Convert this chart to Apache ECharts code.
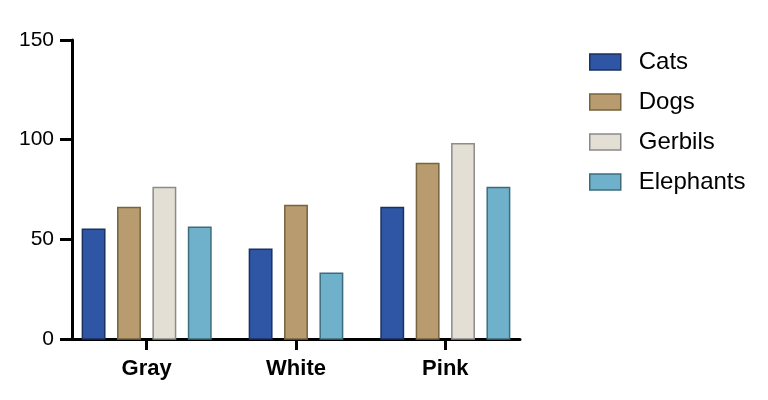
<!DOCTYPE html>
<html>
<head>
<meta charset="utf-8">
<script src="https://cdn.jsdelivr.net/npm/echarts@6/dist/echarts.min.js"></script>
<style>html,body{margin:0;padding:0;background:#fff;}#c{width:768px;height:400px;}</style>
</head>
<body>
<div id="c"></div>
<script>
var categories = ['Gray', 'White', 'Pink'];
var seriesNames = ['Cats', 'Dogs', 'Gerbils', 'Elephants'];
var cats = [55, 45, 66];
var dogs = [66, 67, 88];
var gerbils = [76, null, 98];
var elephants = [56, 33, 76];
var yTicks = [0, 50, 100, 150];

var allValues = [cats, dogs, gerbils, elephants];
var fills = ['#2E56A4', '#B89C6F', '#E3DFD5', '#6FB0CB'];
var strokes = ['#1B315F', '#76633F', '#8C8B88', '#3E6C7D'];
var FONT = '"Liberation Sans", Arial, Helvetica, sans-serif';

function makeRender(sIdx) {
  return function (params, api) {
    var cat = api.value(0);
    var val = api.value(1);
    var present = [];
    for (var s = 0; s < allValues.length; s++) {
      if (allValues[s][cat] != null) present.push(s);
    }
    var k = present.indexOf(sIdx);
    var n = present.length;
    var base = api.coord([cat, 0]);
    var top = api.coord([cat, val]);
    var band = api.size([1, 0])[0];
    var pitch = band * 0.237;
    var w = band * 0.150;
    var cx = base[0] + (k - (n - 1) / 2) * pitch;
    return {
      type: 'rect',
      shape: { x: cx - w / 2, y: top[1], width: w, height: base[1] - top[1] },
      style: { fill: fills[sIdx], stroke: strokes[sIdx], lineWidth: 1.5 }
    };
  };
}

var series = allValues.map(function (arr, sIdx) {
  return {
    name: seriesNames[sIdx],
    type: 'custom',
    renderItem: makeRender(sIdx),
    itemStyle: { color: fills[sIdx], borderColor: strokes[sIdx], borderWidth: 1.5 },
    encode: { x: 0, y: 1 },
    data: arr.map(function (v, i) { return v == null ? null : [i, v]; }).filter(function (d) { return d; })
  };
});

var chart = echarts.init(document.getElementById('c'), null, { renderer: 'canvas' });
chart.setOption({
  animation: false,
  backgroundColor: '#fff',
  grid: { left: 72, right: 248, top: 40, bottom: 61, containLabel: false },
  legend: {
    orient: 'vertical',
    left: 584,
    top: 45,
    icon: 'rect',
    itemWidth: 31,
    itemHeight: 16,
    itemGap: 16,
    textStyle: { fontFamily: FONT, fontSize: 24, color: '#000', lineHeight: 24, padding: [0, 0, 0, 13] },
    data: seriesNames.map(function (nm, i) {
      return { name: nm, itemStyle: { color: fills[i], borderColor: strokes[i], borderWidth: 1.5 } };
    })
  },
  xAxis: {
    type: 'category',
    data: categories,
    axisLine: { show: true, lineStyle: { color: '#000', width: 3 } },
    axisTick: { show: true, alignWithLabel: true, length: 11, lineStyle: { color: '#000', width: 3 } },
    axisLabel: { fontFamily: FONT, fontSize: 22, fontWeight: 'bold', color: '#000', margin: 19 },
    splitLine: { show: false }
  },
  yAxis: {
    type: 'value',
    min: yTicks[0],
    max: yTicks[yTicks.length - 1],
    interval: 50,
    axisLine: { show: true, lineStyle: { color: '#000', width: 3 } },
    axisTick: { show: true, length: 12, lineStyle: { color: '#000', width: 3 } },
    axisLabel: { fontFamily: FONT, fontSize: 21, color: '#000', margin: 18 },
    splitLine: { show: false }
  },
  series: series
});
</script>
</body>
</html>
